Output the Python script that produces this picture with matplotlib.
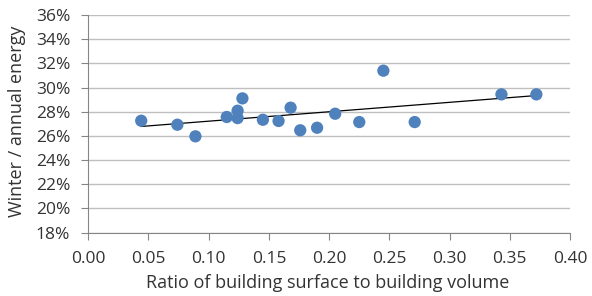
import matplotlib
matplotlib.use("Agg")
import matplotlib.pyplot as plt
import numpy as np
from matplotlib.ticker import FuncFormatter

# Ratio of building surface to building volume vs winter share of annual energy
ratio = [0.044, 0.074, 0.089, 0.115, 0.124, 0.124, 0.128, 0.145, 0.158, 0.168,
         0.176, 0.190, 0.205, 0.225, 0.245, 0.271, 0.343, 0.372]
winter_share = [27.26, 26.93, 25.97, 27.57, 27.48, 28.09, 29.11, 27.34, 27.24, 28.34,
                26.47, 26.68, 27.84, 27.15, 31.40, 27.15, 29.44, 29.44]

plt.rcParams["font.family"] = ["Open Sans", "DejaVu Sans"]
text_color = "#333333"

fig = plt.figure(figsize=(5.92, 2.96), dpi=100)
ax = fig.add_axes([0.149, 0.214, 0.814, 0.735])

ax.scatter(ratio, winter_share, s=78, color="#4F81BD", edgecolors="none", zorder=3)

# linear trendline
slope, intercept = np.polyfit(ratio, winter_share, 1)
xs = np.array([min(ratio), max(ratio)])
ax.plot(xs, slope * xs + intercept, color="black", lw=0.9, zorder=2)

ax.set_xlim(0, 0.40)
ax.set_ylim(18, 36)
ax.set_xticks(np.arange(0, 0.401, 0.05))
ax.set_yticks(np.arange(18, 36.1, 2))
ax.xaxis.set_major_formatter(FuncFormatter(lambda v, p: f"{v:.2f}"))
ax.yaxis.set_major_formatter(FuncFormatter(lambda v, p: f"{v:.0f}%"))

ax.grid(axis="y", color="#bfbfbf", lw=1)
ax.set_axisbelow(True)
for side in ["top", "right"]:
    ax.spines[side].set_visible(False)
for side in ["left", "bottom"]:
    ax.spines[side].set_color("#868686")
ax.tick_params(axis="both", colors="#868686", labelcolor=text_color, labelsize=12.5, length=5, pad=8)

fig.text(0.553, 0.027, "Ratio of building surface to building volume",
         ha="center", va="baseline", fontsize=13, color=text_color)
fig.text(0.029, 0.59, "Winter / annual energy", ha="center", va="center",
         rotation=90, fontsize=13, color=text_color)

fig.savefig("out.png", dpi=100)
